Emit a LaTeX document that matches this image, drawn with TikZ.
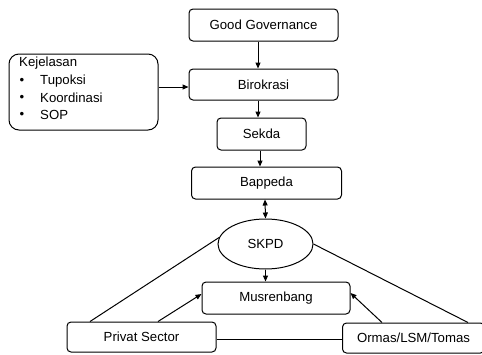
\documentclass[tikz,border=0pt]{standalone}
\usepackage{fontspec}
\setmainfont{Liberation Sans}
\usetikzlibrary{arrows.meta,shapes.geometric}
\begin{document}
\begin{tikzpicture}[x=1pt,y=-1pt,
  box/.style={draw, rounded corners=4pt, line width=1pt, inner sep=0pt,
    font=\fontsize{13.2}{15}\selectfont},
  txt/.style={inner sep=0pt, font=\fontsize{13.2}{15}\selectfont},
  arr/.style={-{Triangle[length=6pt,width=5pt]}, line width=1pt},
  darr/.style={{Triangle[length=6pt,width=5pt]}-{Triangle[length=6pt,width=5pt]}, line width=1pt},
  ln/.style={line width=1pt}]
\useasboundingbox (0,0) rectangle (482,354);
\clip (0,0) rectangle (482,354);

\node[box, minimum width=149pt, minimum height=32pt] (gg) at (263.5,25) {Good Governance};
\node[box, minimum width=149pt, minimum height=31pt] (bir) at (263.5,84.5) {Birokrasi};
\node[box, minimum width=89pt, minimum height=32pt] (sekda) at (261.5,134) {Sekda};
\node[box, minimum width=150pt, minimum height=32pt] (bap) at (266.5,183) {Bappeda};
\node[box, ellipse, rounded corners=0pt, minimum width=95pt, minimum height=50pt] (skpd) at (265.5,244) {SKPD};
\node[box, minimum width=148pt, minimum height=32pt] (mus) at (276,298) {Musrenbang};
\node[box, minimum width=149pt, minimum height=30pt] (priv) at (141.5,337) {Privat Sector};
\node[box, minimum width=142pt, minimum height=30pt] (ormas) at (413.5,338) {Ormas/LSM/Tomas};

\node[draw, line width=1pt, rounded corners=10pt, minimum width=149pt, minimum height=76pt] (kej) at (83.5,92) {};
\node[txt, anchor=west] (k0) at (19,63) {Kejelasan};
\node[txt] (b1) at (22,81) {\textbullet};
\node[txt] (b2) at (22,98) {\textbullet};
\node[txt] (b3) at (22,115) {\textbullet};
\node[txt, anchor=west] (k1) at (40,81) {Tupoksi};
\node[txt, anchor=west] (k2) at (40,98) {Koordinasi};
\node[txt, anchor=west] (k3) at (40,115) {SOP};

\draw[arr] ([xshift=-5.5pt]gg.south) -- ([xshift=-5.5pt]bir.north);
\draw[arr] ([xshift=-5.5pt]bir.south) -- ([xshift=-3.5pt]sekda.north);
\draw[arr] ([xshift=-1.5pt]sekda.south) -- ([xshift=-6.5pt]bap.north);
\draw[darr] ([xshift=-1.5pt]bap.south) -- (skpd.north);
\draw[arr] (skpd.south) -- ([xshift=-10.5pt]mus.north);
\draw[arr] ([yshift=-2.5pt]bir.west -| kej.east) -- ([yshift=-2.5pt]bir.west);

\draw[ln] (skpd.172) -- ([xshift=-51.5pt]priv.north);
\draw[ln] (skpd.east) -- ([xshift=54.5pt]ormas.north);
\draw[arr] ([xshift=16.5pt]priv.north) -- ([yshift=4pt]mus.west);
\draw[arr] ([xshift=-31.5pt]ormas.north) -- ([yshift=5pt]mus.east);
\draw[ln] ([yshift=-2pt]priv.east) -- ([yshift=-2pt]priv.east -| ormas.west);
\end{tikzpicture}
\end{document}
